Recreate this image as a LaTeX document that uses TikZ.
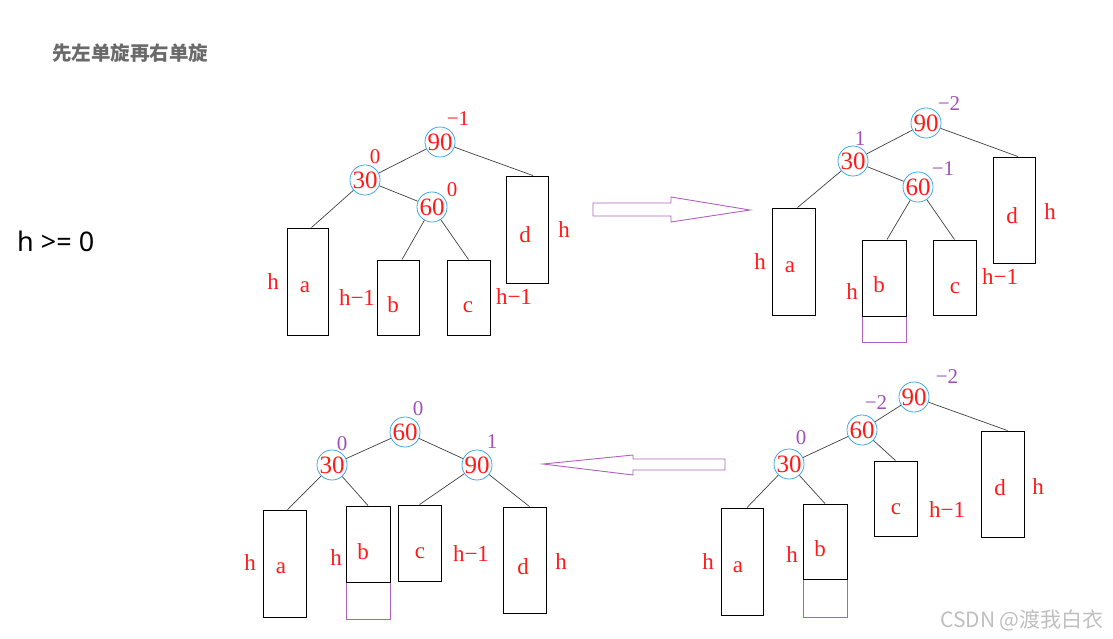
\documentclass[tikz,border=0pt]{standalone}
\usepackage{fontspec}
\setmainfont{Liberation Serif}
\newfontfamily\cjk{Noto Sans CJK SC}
\newfontfamily\sansf{Noto Sans}
\definecolor{nred}{HTML}{FF1A1A}
\definecolor{bfpur}{HTML}{A050B8}
\definecolor{arrpur}{HTML}{B060C0}
\definecolor{cblue}{HTML}{40A8E8}
\definecolor{edgec}{HTML}{404040}
\definecolor{titleg}{HTML}{6A6A6A}
\tikzset{
 tnode/.style={circle, draw=cblue, line width=0.8pt, minimum size=26pt, inner sep=0pt, text=nred, font=\fontsize{25}{25}\selectfont},
 tbox/.style={rectangle, draw=black, line width=0.9pt, inner sep=0pt, minimum width=43pt},
 hbox/.style={tbox, minimum height=107pt},
 sbox/.style={tbox, minimum height=75pt},
 extbox/.style={rectangle, draw=arrpur, line width=0.9pt, inner sep=0pt, minimum width=44pt},
 lbl/.style={text=nred, font=\fontsize{23}{23}\selectfont, inner sep=0pt},
 bfr/.style={text=nred, font=\fontsize{21}{21}\selectfont, inner sep=0pt},
 bfp/.style={text=bfpur, font=\fontsize{21}{21}\selectfont, inner sep=0pt},
 link/.style={draw=edgec, line width=0.7pt},
 barrow/.style={draw=arrpur, line width=0.9pt, fill=white},
}
\begin{document}
\begin{tikzpicture}[x=1pt,y=-1pt]
\useasboundingbox (0,0) rectangle (1113,639);
% title and condition
\node[anchor=west, inner sep=0pt, text=titleg, font=\cjk\bfseries\fontsize{19.5}{19.5}\selectfont] (title) at (52,53) {先左单旋再右单旋};
\node[anchor=west, inner sep=0pt, font=\sansf\fontsize{27}{27}\selectfont] (cond) at (17,241) {h >= 0};
% ===== top-left tree =====
\node[tnode] (tl90) at (440,142) {90};
\node[tnode] (tl30) at (365,180) {30};
\node[tnode] (tl60) at (432,207) {60};
\node[bfr] (tlbf90) at (458,119) {−1};
\node[bfr] (tlbf30) at (375,157) {0};
\node[bfr] (tlbf60) at (452,190) {0};
\node[hbox, minimum width=41pt] (tla) at (307.5,281.5) {};
\node[sbox, minimum width=42pt] (tlb) at (398,297.5) {};
\node[sbox] (tlc) at (468.5,297.5) {};
\node[hbox, minimum width=42pt] (tld) at (527,229.5) {};
\draw[link] (tl90) -- (tl30);
\draw[link] (tl90) -- ([xshift=6pt]tld.north);
\draw[link] (tl30) -- ([xshift=4pt]tla.north);
\draw[link] (tl30) -- (tl60);
\draw[link] (tl60) -- ([xshift=4pt]tlb.north);
\draw[link] (tl60) -- (tlc.north);
\node[lbl] (tlta) at (305,287) {a};
\node[lbl] (tltb) at (393,305) {b};
\node[lbl] (tltc) at (468,307) {c};
\node[lbl] (tltd) at (525,235) {d};
\node[lbl] (tlha) at (273,282) {h};
\node[lbl] (tlhb) at (357,298) {h−1};
\node[lbl] (tlhc) at (514,297) {h−1};
\node[lbl] (tlhd) at (564,230) {h};
% arrow right
\draw[barrow] (593,203) -- (671,203) -- (671,197) -- (750,210) -- (671,222) -- (671,216) -- (593,216) -- cycle;
% ===== top-right tree =====
\node[tnode] (tr90) at (926,123) {90};
\node[tnode] (tr30) at (853,161) {30};
\node[tnode] (tr60) at (918,187) {60};
\node[bfp] (trbf90) at (949,104) {−2};
\node[bfp] (trbf30) at (860,139) {1};
\node[bfp] (trbf60) at (943,169) {−1};
\node[hbox] (tra) at (793.5,261.5) {};
\node[extbox, minimum height=26pt] (trbx) at (884,329) {};
\node[sbox, minimum width=44pt, minimum height=76pt] (trb) at (884,278) {};
\node[sbox] (trc) at (954.5,277.5) {};
\node[hbox, minimum width=42pt, minimum height=106pt] (trd) at (1014,210) {};
\draw[link] (tr90) -- (tr30);
\draw[link] (tr90) -- ([xshift=4pt]trd.north);
\draw[link] (tr30) -- ([xshift=4pt]tra.north);
\draw[link] (tr30) -- (tr60);
\draw[link] (tr60) -- ([xshift=3pt]trb.north);
\draw[link] (tr60) -- (trc.north);
\node[lbl] (trta) at (790,267) {a};
\node[lbl] (trtb) at (879,285) {b};
\node[lbl] (trtc) at (955,288) {c};
\node[lbl] (trtd) at (1012,216) {d};
\node[lbl] (trha) at (760,262) {h};
\node[lbl] (trhb) at (852,292) {h};
\node[lbl] (trhc) at (1000,277) {h−1};
\node[lbl] (trhd) at (1050,212) {h};
% ===== bottom-right tree =====
\node[tnode] (br90) at (914,397) {90};
\node[tnode] (br60) at (862,430) {60};
\node[tnode] (br30) at (789,464) {30};
\node[bfp] (brbf90) at (947,377) {−2};
\node[bfp] (brbf60) at (876,403) {−2};
\node[bfp] (brbf30) at (801,438) {0};
\node[hbox, minimum width=42pt] (bra) at (742,561.5) {};
\node[extbox, minimum height=38pt] (brbx) at (825,598) {};
\node[sbox, minimum width=44pt] (brb) at (825,541.5) {};
\node[sbox] (brc) at (895.5,498.5) {};
\node[hbox, minimum height=106pt] (brd) at (1002.5,484) {};
\draw[link] (br90) -- (br60);
\draw[link] (br90) -- ([xshift=5pt]brd.north);
\draw[link] (br60) -- (br30);
\draw[link] (br60) -- (brc.north);
\draw[link] (br30) -- ([xshift=5pt]bra.north);
\draw[link] (br30) -- (brb.north);
\node[lbl] (brta) at (738,567) {a};
\node[lbl] (brtb) at (820,549) {b};
\node[lbl] (brtc) at (896,509) {c};
\node[lbl] (brtd) at (1000,488) {d};
\node[lbl] (brha) at (708,562) {h};
\node[lbl] (brhb) at (792,555) {h};
\node[lbl] (brhc) at (947,510) {h−1};
\node[lbl] (brhd) at (1038,487) {h};
% arrow left
\draw[barrow] (725,459) -- (633,459) -- (633,455) -- (543,464) -- (633,475) -- (633,470) -- (725,470) -- cycle;
% ===== bottom-left tree =====
\node[tnode] (bl60) at (405,432) {60};
\node[tnode] (bl30) at (332,465) {30};
\node[tnode] (bl90) at (477,465) {90};
\node[bfp] (blbf60) at (418,409) {0};
\node[bfp] (blbf30) at (342,444) {0};
\node[bfp] (blbf90) at (492,442) {1};
\node[hbox] (bla) at (284.5,563.5) {};
\node[extbox, minimum height=37pt] (blbx) at (368,600.5) {};
\node[sbox, minimum width=44pt, minimum height=76pt] (blb) at (368,544) {};
\node[sbox, minimum height=76pt] (blc) at (419.5,543) {};
\node[hbox, minimum height=106pt] (bld) at (524.5,560) {};
\draw[link] (bl60) -- (bl30);
\draw[link] (bl60) -- (bl90);
\draw[link] (bl30) -- ([xshift=3pt]bla.north);
\draw[link] (bl30) -- (blb.north);
\draw[link] (bl90) -- (blc.north);
\draw[link] (bl90) -- ([xshift=5pt]bld.north);
\node[lbl] (blta) at (281,568) {a};
\node[lbl] (bltb) at (363,552) {b};
\node[lbl] (bltc) at (420,553) {c};
\node[lbl] (bltd) at (523,567) {d};
\node[lbl] (blha) at (250,563) {h};
\node[lbl] (blhb) at (336,558) {h};
\node[lbl] (blhc) at (471,554) {h−1};
\node[lbl] (blhd) at (561,562) {h};
% watermark
\node[anchor=west, inner sep=0pt, text=black!25, font=\cjk\fontsize{21}{21}\selectfont] (wm) at (940,620) {CSDN @渡我白衣};
\end{tikzpicture}
\end{document}
